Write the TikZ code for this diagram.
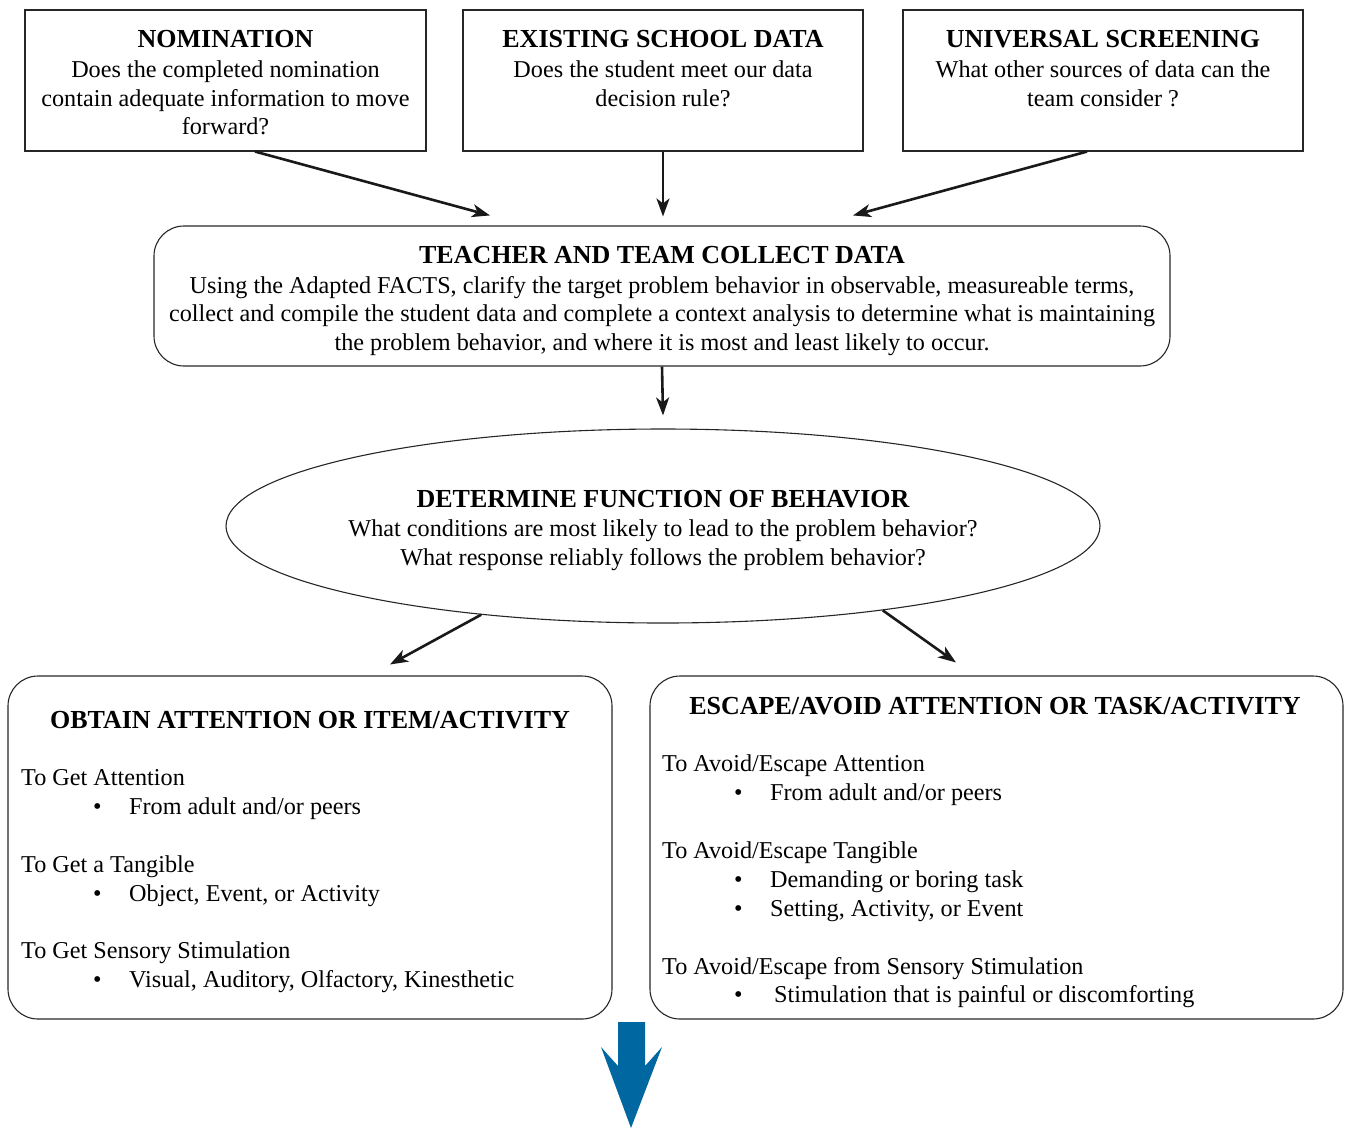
\documentclass[tikz,border=0pt]{standalone}
\usepackage{fontspec}
\setmainfont{Liberation Serif}
\usepackage{xcolor}
\usetikzlibrary{arrows.meta,shapes.geometric,positioning}

\definecolor{flowblue}{RGB}{0,103,160}
\newcommand{\titlefont}{\fontsize{26}{28.5}\selectfont\bfseries}
\newcommand{\itm}[1]{\hspace*{72pt}\makebox[36pt][l]{\textbullet}#1}

\begin{document}
\begin{tikzpicture}[x=1pt,y=-1pt,
    box/.style={draw=black!85,line width=1.1pt,inner sep=0},
    rbox/.style={box,rounded corners=30pt},
    txt/.style={inner sep=0,font=\fontsize{24.2}{28.5}\selectfont},
    head/.style={font=\titlefont},
    flow/.style={-{Stealth[length=18pt,width=13pt,inset=5pt]},line width=2.6pt,draw=black!90}]
    \useasboundingbox (0,0) rectangle (1348,1128);

    \node[box,minimum width=401,minimum height=141] (nom) at (225.5,80.5) {};
    \node[box,minimum width=400,minimum height=141] (data) at (663,80.5) {};
    \node[box,minimum width=400,minimum height=141] (screen) at (1103,80.5) {};
    \node[txt,align=center,anchor=north] (nomtxt) at (225.5,30.5) {{\titlefont NOMINATION}\\[1.5pt]Does the completed nomination\\contain adequate information to move\\forward?};
    \node[txt,align=center,anchor=north] (datatxt) at (663,30.5) {{\titlefont EXISTING SCHOOL DATA}\\[1.5pt]Does the student meet our data\\decision rule?};
    \node[txt,align=center,anchor=north] (screentxt) at (1103,30.5) {{\titlefont UNIVERSAL SCREENING}\\[1.5pt]What other sources of data can the\\team consider ?};

    \node[rbox,minimum width=1016,minimum height=140] (collect) at (662,296) {};
    \node[txt,align=center,anchor=north] (collecttxt) at (662,246.5) {{\titlefont TEACHER AND TEAM COLLECT DATA}\\[1pt]Using the Adapted FACTS, clarify the target problem behavior in observable, measureable terms,\\collect and compile the student data and complete a context analysis to determine what is maintaining\\the problem behavior, and where it is most and least likely to occur.};

    \node[ellipse,box,minimum width=874,minimum height=194] (func) at (663,526) {};
    \node[txt,align=center,yshift=-4pt] (functxt) at (func.center) {{\titlefont DETERMINE FUNCTION OF BEHAVIOR}\\[1pt]What conditions are most likely to lead to the problem behavior?\\What response reliably follows the problem behavior?};

    \node[rbox,minimum width=604,minimum height=343] (obtain) at (310,847.5) {};
    \node[txt,head,anchor=north] (obtainhd) at (310,711.5) {OBTAIN ATTENTION OR ITEM/ACTIVITY};
    \node[txt,align=left,anchor=north west] (obtaintxt) at (21,769.5) {To Get Attention\\\itm{From adult and/or peers}\\[30pt]To Get a Tangible\\\itm{Object, Event, or Activity}\\[29pt]To Get Sensory Stimulation\\\itm{Visual, Auditory, Olfactory, Kinesthetic}};

    \node[rbox,minimum width=693,minimum height=343] (escape) at (996.5,847.5) {};
    \node[txt,head,anchor=north] (escapehd) at (995,697.5) {ESCAPE/AVOID ATTENTION OR TASK/ACTIVITY};
    \node[txt,align=left,anchor=north west] (escapetxt) at (662,754.5) {To Avoid/Escape Attention\\\itm{From adult and/or peers}\\[30pt]To Avoid/Escape Tangible\\\itm{Demanding or boring task}\\[1pt]\itm{Setting, Activity, or Event}\\[29pt]To Avoid/Escape from Sensory Stimulation\\\itm{\,Stimulation that is painful or discomforting}};

    \draw[flow] ([xshift=29.5pt]nom.south) -- ([xshift=-172pt,yshift=10pt]collect.north);
    \draw[flow] (data.south) -- ([xshift=1pt,yshift=9pt]collect.north);
    \draw[flow] ([xshift=-16pt]screen.south) -- ([xshift=191pt,yshift=10pt]collect.north);
    \draw[flow] (collect.south) -- ([yshift=13pt]func.north);
    \draw[flow] (func.206) -- ([xshift=80pt,yshift=11pt]obtain.north);
    \draw[flow] (func.339.5) -- ([xshift=-40.5pt,yshift=13pt]escape.north);

    \fill[flowblue] (618,1022) -- (645,1022) -- (645,1066) -- (662,1047) -- (631,1128)
        -- (601,1047) -- (618,1066) -- cycle;
\end{tikzpicture}
\end{document}
